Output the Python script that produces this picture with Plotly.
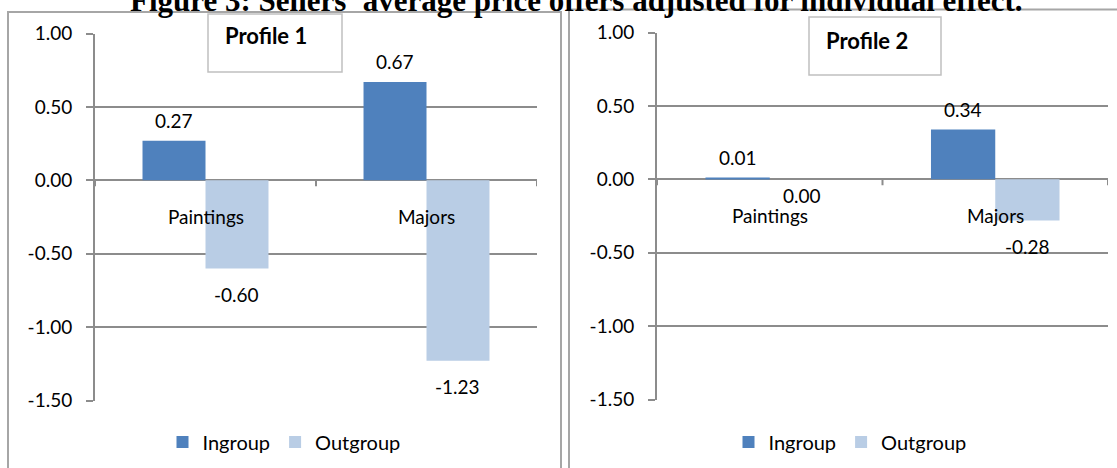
import plotly.graph_objects as go

# ---- data -------------------------------------------------------------
categories = ["Paintings", "Majors"]
series_names = ["Ingroup", "Outgroup"]
profile1_ingroup = [0.27, 0.67]
profile1_outgroup = [-0.60, -1.23]
profile2_ingroup = [0.01, 0.34]
profile2_outgroup = [0.00, -0.28]
panel_titles = ["Profile 1", "Profile 2"]
y_ticks = [1.0, 0.5, 0.0, -0.5, -1.0, -1.5]
y_tick_labels = [f"{v:.2f}" for v in y_ticks]
figure_title = "Figure 3: Sellers' average price offers adjusted for individual effect."

# ---- styling ------------------------------------------------------------
W, H = 1117, 468
COL_IN = "#4F81BD"
COL_OUT = "#B9CDE5"
GRID = "#8C8C8C"
FONT = "Lato"
FS = 19
BARGAP = 0.43
HALF = (1 - BARGAP) / 4  # centre offset of each bar inside its group


def px(x):
    return x / W


def py(y):
    return 1 - y / H


def label_shift(v):
    if v > 0:
        return 20
    if v < 0:
        return -26
    return -16


fig = go.Figure()

panels = [
    dict(xa="x", ya="y", xdom=(95, 537), ydom=(33.5, 400.5), legend="legend",
         ing=profile1_ingroup, out=profile1_outgroup),
    dict(xa="x2", ya="y2", xdom=(657, 1108), ydom=(32.5, 399.5), legend="legend2",
         ing=profile2_ingroup, out=profile2_outgroup),
]

annotations = []
shapes = []

for i, p in enumerate(panels):
    for name, vals, col in ((series_names[0], p["ing"], COL_IN),
                            (series_names[1], p["out"], COL_OUT)):
        fig.add_trace(go.Bar(
            x=categories, y=vals, name=name, marker=dict(color=col, line=dict(width=0)),
            xaxis=p["xa"], yaxis=p["ya"], legend=p["legend"], hoverinfo="skip",
        ))
    # value labels above / below each bar
    for j, cat in enumerate(categories):
        for vals, off in ((p["ing"], -HALF), (p["out"], HALF)):
            v = vals[j]
            annotations.append(dict(
                x=j + off, y=v, xref=p["xa"], yref=p["ya"], text=f"{v:.2f}",
                showarrow=False, yshift=label_shift(v),
                font=dict(family=FONT, size=FS, color="#000000"),
            ))
        # category names sit just under the zero line
        annotations.append(dict(
            x=j, y=0, xref=p["xa"], yref=p["ya"], text=cat, showarrow=False,
            yshift=-36, font=dict(family=FONT, size=FS, color="#000000"),
        ))
    # small tick marks on the category axis
    for b in (-0.5, 0.5, 1.5):
        shapes.append(dict(
            type="line", xref=p["xa"], yref=p["ya"], x0=b, x1=b,
            ysizemode="pixel", yanchor=0, y0=0, y1=-6,
            line=dict(color=GRID, width=2), layer="above",
        ))

    ax_suffix = "" if i == 0 else "2"
    fig.update_layout(**{
        "xaxis" + ax_suffix: dict(
            domain=[px(p["xdom"][0]), px(p["xdom"][1])], anchor=p["ya"],
            showticklabels=False, showgrid=False, zeroline=False, showline=False,
            range=[-0.5, 1.5], fixedrange=True, automargin=False,
        ),
        "yaxis" + ax_suffix: dict(
            domain=[py(p["ydom"][1]), py(p["ydom"][0])], anchor=p["xa"],
            range=[-1.5, 1.0], tickvals=y_ticks, ticktext=y_tick_labels,
            showgrid=True, gridcolor=GRID, gridwidth=2,
            zeroline=True, zerolinecolor=GRID, zerolinewidth=2,
            showline=True, linecolor=GRID, linewidth=2,
            ticks="outside", ticklen=7, tickcolor=GRID, tickwidth=2,
            ticklabelstandoff=10, automargin=False,
            tickfont=dict(family=FONT, size=FS, color="#000000"),
            fixedrange=True,
        ),
    })

# panel frames
shapes.append(dict(type="rect", xref="paper", yref="paper",
                   x0=px(8), x1=px(561), y0=py(480), y1=py(12),
                   line=dict(color="#A6A6A6", width=2), layer="above"))
shapes.append(dict(type="rect", xref="paper", yref="paper",
                   x0=px(569), x1=px(1130), y0=py(480), y1=py(9.5),
                   line=dict(color="#A6A6A6", width=2), layer="above"))

# "Profile" title boxes
boxes = [(208, 342, 14, 72, 223, 36), (809, 941, 17, 75, 824, 40)]
for (x0, x1, y0, y1, tx, ty), label in zip(boxes, panel_titles):
    shapes.append(dict(type="rect", xref="paper", yref="paper",
                       x0=px(x0), x1=px(x1), y0=py(y1), y1=py(y0),
                       fillcolor="#FFFFFF", line=dict(color="#C0C0C0", width=1.5),
                       layer="above"))
    annotations.append(dict(x=px(tx), y=py(ty), xref="paper", yref="paper",
                            xanchor="left", yanchor="middle", text=f"<b>{label}</b>",
                            showarrow=False,
                            font=dict(family=FONT, size=22, color="#000000")))

# figure caption, partly running off the top edge
annotations.append(dict(x=px(576), y=py(20), xref="paper", yref="paper",
                        xanchor="center", yanchor="bottom",
                        text=f"<b>{figure_title}</b>", showarrow=False,
                        font=dict(family="Liberation Serif", size=31, color="#000000")))

legend_style = dict(orientation="h", xanchor="center", yanchor="middle",
                    font=dict(family=FONT, size=20, color="#000000"),
                    bgcolor="rgba(0,0,0,0)", itemclick=False, itemdoubleclick=False)

fig.update_layout(
    width=W, height=H,
    margin=dict(l=0, r=0, t=0, b=0, pad=0, autoexpand=False),
    paper_bgcolor="#FFFFFF", plot_bgcolor="#FFFFFF",
    barmode="group", bargap=BARGAP, bargroupgap=0,
    showlegend=True,
    legend=dict(x=px(284), y=py(442), **legend_style),
    legend2=dict(x=px(850), y=py(442), **legend_style),
    annotations=annotations, shapes=shapes,
)

fig.write_html("out.html", config={"displayModeBar": False})
